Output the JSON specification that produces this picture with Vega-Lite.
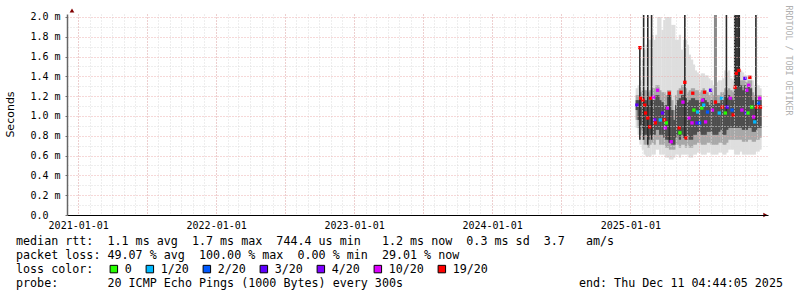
{
  "$schema": "https://vega.github.io/schema/vega-lite/v6.json",
  "width": 701,
  "height": 201,
  "autosize": "none",
  "padding": {"left": 67, "top": 14, "right": 29, "bottom": 82},
  "background": "white",
  "config": {"view": {"stroke": null}, "font": "DejaVu Sans Mono"},
  "title": {
    "text": [
      "median rtt:\u00a0\u00a01.1 ms avg\u00a0\u00a01.7 ms max\u00a0\u00a0744.4 us min\u00a0\u00a0\u00a01.2 ms now\u00a0\u00a00.3 ms sd\u00a0\u00a03.7\u00a0\u00a0\u00a0am/s",
      "packet loss: 49.07 % avg\u00a0\u00a0100.00 % max\u00a0\u00a00.00 % min\u00a0\u00a029.01 % now",
      "loss color:",
      "probe:\u00a0\u00a0\u00a0\u00a0\u00a0\u00a0\u00a020 ICMP Echo Pings (1000 Bytes) every 300s\u00a0\u00a0\u00a0\u00a0\u00a0\u00a0\u00a0\u00a0\u00a0\u00a0\u00a0\u00a0\u00a0\u00a0\u00a0\u00a0\u00a0\u00a0\u00a0\u00a0\u00a0\u00a0\u00a0\u00a0\u00a0end: Thu Dec 11 04:44:05 2025"
    ],
    "orient": "bottom",
    "anchor": "start",
    "frame": "group",
    "dx": -51,
    "dy": -44,
    "offset": 4,
    "font": "DejaVu Sans Mono",
    "fontSize": 11.7,
    "fontWeight": "normal",
    "lineHeight": 14,
    "color": "#000000"
  },
  "datasets": {
    "smoke": [
      {"t":"2025-01-18","lo":0.88,"hi":1.28,"a":0.96,"b":1.21,"c":1.06,"d":1.16},
      {"t":"2025-01-23","lo":0.81,"hi":1.31,"a":0.88,"b":1.21,"c":0.96,"d":1.16},
      {"t":"2025-01-28","lo":0.71,"hi":1.36,"a":0.81,"b":1.24,"c":0.91,"d":1.18},
      {"t":"2025-02-03","lo":0.66,"hi":1.57,"a":0.76,"b":1.26,"c":0.86,"d":1.16},
      {"t":"2025-02-08","lo":0.61,"hi":1.67,"a":0.71,"b":1.26,"c":0.81,"d":1.16},
      {"t":"2025-02-13","lo":0.59,"hi":1.72,"a":0.71,"b":1.26,"c":0.81,"d":1.16},
      {"t":"2025-02-18","lo":0.59,"hi":1.77,"a":0.68,"b":1.24,"c":0.76,"d":1.11},
      {"t":"2025-02-23","lo":0.59,"hi":1.77,"a":0.71,"b":1.26,"c":0.81,"d":1.16},
      {"t":"2025-03-01","lo":0.61,"hi":1.82,"a":0.73,"b":1.28,"c":0.81,"d":1.16},
      {"t":"2025-03-06","lo":0.61,"hi":1.77,"a":0.71,"b":1.28,"c":0.81,"d":1.16},
      {"t":"2025-03-11","lo":0.66,"hi":1.82,"a":0.76,"b":1.31,"c":0.86,"d":1.21},
      {"t":"2025-03-16","lo":0.66,"hi":2.0,"a":0.76,"b":1.31,"c":0.86,"d":1.21},
      {"t":"2025-03-21","lo":0.61,"hi":2.0,"a":0.71,"b":1.26,"c":0.81,"d":1.16},
      {"t":"2025-03-27","lo":0.61,"hi":1.87,"a":0.71,"b":1.24,"c":0.81,"d":1.14},
      {"t":"2025-04-01","lo":0.61,"hi":1.97,"a":0.71,"b":1.24,"c":0.78,"d":1.11},
      {"t":"2025-04-06","lo":0.58,"hi":2.0,"a":0.68,"b":1.21,"c":0.76,"d":1.11},
      {"t":"2025-04-11","lo":0.58,"hi":2.0,"a":0.68,"b":1.26,"c":0.76,"d":1.21},
      {"t":"2025-04-16","lo":0.56,"hi":2.0,"a":0.66,"b":1.26,"c":0.73,"d":1.21},
      {"t":"2025-04-22","lo":0.56,"hi":1.92,"a":0.66,"b":1.16,"c":0.71,"d":1.06},
      {"t":"2025-04-27","lo":0.58,"hi":1.92,"a":0.66,"b":1.06,"c":0.71,"d":0.96},
      {"t":"2025-05-02","lo":0.61,"hi":1.77,"a":0.71,"b":1.21,"c":0.78,"d":1.11},
      {"t":"2025-05-07","lo":0.61,"hi":1.77,"a":0.71,"b":1.26,"c":0.81,"d":1.16},
      {"t":"2025-05-12","lo":0.58,"hi":1.82,"a":0.68,"b":1.28,"c":0.76,"d":1.18},
      {"t":"2025-05-18","lo":0.61,"hi":1.67,"a":0.71,"b":1.31,"c":0.81,"d":1.21},
      {"t":"2025-05-23","lo":0.61,"hi":1.77,"a":0.71,"b":1.31,"c":0.78,"d":1.21},
      {"t":"2025-05-28","lo":0.61,"hi":1.77,"a":0.68,"b":1.28,"c":0.76,"d":1.18},
      {"t":"2025-06-02","lo":0.61,"hi":1.72,"a":0.71,"b":1.24,"c":0.81,"d":1.14},
      {"t":"2025-06-07","lo":0.58,"hi":1.62,"a":0.68,"b":1.26,"c":0.76,"d":1.16},
      {"t":"2025-06-13","lo":0.58,"hi":1.57,"a":0.68,"b":1.28,"c":0.76,"d":1.18},
      {"t":"2025-06-18","lo":0.61,"hi":1.52,"a":0.71,"b":1.28,"c":0.81,"d":1.18},
      {"t":"2025-06-23","lo":0.61,"hi":1.46,"a":0.71,"b":1.26,"c":0.81,"d":1.16},
      {"t":"2025-06-28","lo":0.63,"hi":1.44,"a":0.73,"b":1.26,"c":0.84,"d":1.16},
      {"t":"2025-07-03","lo":0.63,"hi":1.41,"a":0.73,"b":1.24,"c":0.84,"d":1.14},
      {"t":"2025-07-09","lo":0.61,"hi":1.43,"a":0.71,"b":1.26,"c":0.81,"d":1.16},
      {"t":"2025-07-14","lo":0.61,"hi":1.43,"a":0.71,"b":1.28,"c":0.81,"d":1.18},
      {"t":"2025-07-19","lo":0.61,"hi":1.41,"a":0.71,"b":1.26,"c":0.81,"d":1.16},
      {"t":"2025-07-24","lo":0.63,"hi":1.41,"a":0.73,"b":1.24,"c":0.84,"d":1.14},
      {"t":"2025-07-29","lo":0.63,"hi":1.38,"a":0.73,"b":1.21,"c":0.84,"d":1.11},
      {"t":"2025-08-04","lo":0.61,"hi":1.36,"a":0.71,"b":1.24,"c":0.84,"d":1.16},
      {"t":"2025-08-09","lo":0.61,"hi":1.31,"a":0.71,"b":1.21,"c":0.81,"d":1.11},
      {"t":"2025-08-14","lo":0.61,"hi":1.31,"a":0.71,"b":1.21,"c":0.81,"d":1.16},
      {"t":"2025-08-19","lo":0.61,"hi":1.34,"a":0.71,"b":1.21,"c":0.81,"d":1.13},
      {"t":"2025-08-24","lo":0.63,"hi":1.36,"a":0.73,"b":1.21,"c":0.84,"d":1.13},
      {"t":"2025-08-30","lo":0.63,"hi":1.36,"a":0.73,"b":1.24,"c":0.86,"d":1.16},
      {"t":"2025-09-04","lo":0.61,"hi":1.38,"a":0.71,"b":1.24,"c":0.81,"d":1.16},
      {"t":"2025-09-09","lo":0.61,"hi":1.46,"a":0.71,"b":1.28,"c":0.81,"d":1.21},
      {"t":"2025-09-14","lo":0.63,"hi":1.44,"a":0.73,"b":1.26,"c":0.86,"d":1.18},
      {"t":"2025-09-19","lo":0.66,"hi":1.46,"a":0.76,"b":1.28,"c":0.88,"d":1.21},
      {"t":"2025-09-25","lo":0.66,"hi":1.38,"a":0.76,"b":1.26,"c":0.88,"d":1.19},
      {"t":"2025-09-30","lo":0.66,"hi":1.36,"a":0.76,"b":1.24,"c":0.88,"d":1.16},
      {"t":"2025-10-05","lo":0.61,"hi":1.46,"a":0.76,"b":1.31,"c":0.88,"d":1.29},
      {"t":"2025-10-10","lo":0.61,"hi":1.46,"a":0.76,"b":1.31,"c":0.88,"d":1.29},
      {"t":"2025-10-15","lo":0.61,"hi":1.46,"a":0.76,"b":1.31,"c":0.88,"d":1.29},
      {"t":"2025-10-21","lo":0.64,"hi":1.46,"a":0.76,"b":1.36,"c":0.88,"d":1.31},
      {"t":"2025-10-26","lo":0.61,"hi":1.44,"a":0.74,"b":1.36,"c":0.86,"d":1.26},
      {"t":"2025-10-31","lo":0.61,"hi":1.41,"a":0.74,"b":1.36,"c":0.86,"d":1.31},
      {"t":"2025-11-05","lo":0.61,"hi":1.41,"a":0.74,"b":1.34,"c":0.86,"d":1.28},
      {"t":"2025-11-10","lo":0.61,"hi":1.41,"a":0.76,"b":1.36,"c":0.88,"d":1.31},
      {"t":"2025-11-16","lo":0.61,"hi":1.41,"a":0.76,"b":1.36,"c":0.88,"d":1.28},
      {"t":"2025-11-21","lo":0.61,"hi":1.36,"a":0.74,"b":1.24,"c":0.84,"d":1.16},
      {"t":"2025-11-26","lo":0.61,"hi":1.31,"a":0.74,"b":1.21,"c":0.84,"d":1.11},
      {"t":"2025-12-01","lo":0.64,"hi":1.31,"a":0.76,"b":1.21,"c":0.86,"d":1.16},
      {"t":"2025-12-06","lo":0.64,"hi":1.31,"a":0.76,"b":1.21,"c":0.88,"d":1.16},
      {"t":"2025-12-11","lo":0.66,"hi":1.28,"a":0.78,"b":1.21,"c":0.88,"d":1.16}
    ],
    "bars": [
      {"t":"2025-01-26","top":1.69,"bot":0.76,"k":"b"},
      {"t":"2025-02-05","top":2.02,"bot":0.76,"k":"b"},
      {"t":"2025-02-16","top":2.02,"bot":0.71,"k":"b"},
      {"t":"2025-02-26","top":2.02,"bot":0.76,"k":"b"},
      {"t":"2025-04-14","top":1.23,"bot":0.73,"k":"b"},
      {"t":"2025-05-25","top":2.02,"bot":0.78,"k":"b"},
      {"t":"2025-08-14","top":2.02,"bot":1.16,"k":"g"},
      {"t":"2025-09-12","top":2.02,"bot":1.03,"k":"b"},
      {"t":"2025-10-04","top":2.02,"bot":1.29,"k":"b"},
      {"t":"2025-10-07","top":2.02,"bot":1.29,"k":"b"},
      {"t":"2025-10-10","top":2.02,"bot":1.29,"k":"b"},
      {"t":"2025-10-13","top":2.02,"bot":1.29,"k":"b"},
      {"t":"2025-10-16","top":2.02,"bot":1.29,"k":"b"},
      {"t":"2025-11-29","top":2.02,"bot":0.96,"k":"b"}
    ],
    "med": [
      {"t":"2025-01-18","v":1.11,"loss":"3/20"},
      {"t":"2025-01-26","v":1.69,"loss":"19/20"},
      {"t":"2025-01-28","v":1.18,"loss":"19/20"},
      {"t":"2025-02-03","v":1.16,"loss":"19/20"},
      {"t":"2025-02-08","v":1.11,"loss":"19/20"},
      {"t":"2025-02-10","v":1.03,"loss":"19/20"},
      {"t":"2025-02-16","v":0.98,"loss":"19/20"},
      {"t":"2025-02-21","v":0.89,"loss":"19/20"},
      {"t":"2025-02-23","v":1.18,"loss":"19/20"},
      {"t":"2025-03-03","v":1.19,"loss":"10/20"},
      {"t":"2025-03-06","v":0.96,"loss":"4/20"},
      {"t":"2025-03-08","v":0.93,"loss":"19/20"},
      {"t":"2025-03-14","v":1.26,"loss":"10/20"},
      {"t":"2025-03-21","v":0.96,"loss":"1/20"},
      {"t":"2025-03-27","v":1.03,"loss":"3/20"},
      {"t":"2025-04-01","v":0.96,"loss":"19/20"},
      {"t":"2025-04-03","v":0.88,"loss":"10/20"},
      {"t":"2025-04-06","v":0.93,"loss":"0"},
      {"t":"2025-04-09","v":1.08,"loss":"10/20"},
      {"t":"2025-04-14","v":1.23,"loss":"19/20"},
      {"t":"2025-04-19","v":0.74,"loss":"10/20"},
      {"t":"2025-05-10","v":0.88,"loss":"19/20"},
      {"t":"2025-05-12","v":0.83,"loss":"0"},
      {"t":"2025-05-15","v":1.24,"loss":"19/20"},
      {"t":"2025-05-20","v":1.14,"loss":"10/20"},
      {"t":"2025-05-25","v":1.34,"loss":"19/20"},
      {"t":"2025-05-28","v":0.78,"loss":"19/20"},
      {"t":"2025-06-05","v":0.98,"loss":"10/20"},
      {"t":"2025-06-13","v":0.93,"loss":"10/20"},
      {"t":"2025-06-15","v":1.23,"loss":"19/20"},
      {"t":"2025-06-18","v":1.06,"loss":"0"},
      {"t":"2025-06-26","v":0.93,"loss":"3/20"},
      {"t":"2025-06-28","v":1.04,"loss":"1/20"},
      {"t":"2025-07-03","v":0.93,"loss":"2/20"},
      {"t":"2025-07-09","v":1.08,"loss":"0"},
      {"t":"2025-07-11","v":1.16,"loss":"10/20"},
      {"t":"2025-07-14","v":1.11,"loss":"1/20"},
      {"t":"2025-07-16","v":1.24,"loss":"19/20"},
      {"t":"2025-07-19","v":0.94,"loss":"10/20"},
      {"t":"2025-07-24","v":1.04,"loss":"2/20"},
      {"t":"2025-08-01","v":1.26,"loss":"3/20"},
      {"t":"2025-08-06","v":1.06,"loss":"10/20"},
      {"t":"2025-08-14","v":1.14,"loss":"19/20"},
      {"t":"2025-08-24","v":1.03,"loss":"1/20"},
      {"t":"2025-08-30","v":1.18,"loss":"1/20"},
      {"t":"2025-09-01","v":1.09,"loss":"19/20"},
      {"t":"2025-09-09","v":1.03,"loss":"0"},
      {"t":"2025-09-14","v":1.09,"loss":"3/20"},
      {"t":"2025-09-22","v":1.18,"loss":"10/20"},
      {"t":"2025-09-27","v":1.06,"loss":"2/20"},
      {"t":"2025-09-30","v":1.01,"loss":"19/20"},
      {"t":"2025-10-05","v":1.29,"loss":"19/20"},
      {"t":"2025-10-08","v":1.43,"loss":"19/20"},
      {"t":"2025-10-15","v":1.46,"loss":"19/20"},
      {"t":"2025-10-23","v":1.06,"loss":"10/20"},
      {"t":"2025-10-31","v":1.38,"loss":"3/20"},
      {"t":"2025-11-03","v":1.03,"loss":"3/20"},
      {"t":"2025-11-05","v":1.26,"loss":"10/20"},
      {"t":"2025-11-08","v":1.03,"loss":"0"},
      {"t":"2025-11-10","v":1.31,"loss":"10/20"},
      {"t":"2025-11-13","v":1.39,"loss":"19/20"},
      {"t":"2025-11-18","v":1.09,"loss":"0"},
      {"t":"2025-11-23","v":0.99,"loss":"10/20"},
      {"t":"2025-11-26","v":0.94,"loss":"1/20"},
      {"t":"2025-12-01","v":1.09,"loss":"19/20"},
      {"t":"2025-12-06","v":1.13,"loss":"2/20"},
      {"t":"2025-12-09","v":1.18,"loss":"10/20"},
      {"t":"2025-12-11","v":1.09,"loss":"19/20"}
    ],
    "arrows": [
      {"t":"2020-12-15T14:00:00Z","v":2.065,"k":"up"},
      {"t":"2025-12-24T00:00:00Z","v":0,"k":"right"}
    ]
  },
  "layer": [
    {
      "data": {"name": "smoke"},
      "mark": {"type": "bar", "width": 2.4, "color": "#dedede"},
      "encoding": {
        "x": {"field": "t", "type": "temporal",
              "scale": {"type": "utc", "domain": [{"year":2020,"month":12,"date":15,"hours":14,"utc":true},{"year":2025,"month":12,"date":17,"hours":19,"utc":true}]},
              "axis": {"orient": "bottom", "tickCount": {"interval": "month", "step": 1}, "grid": true, "gridColor": "#dddddd", "gridDash": [1, 2], "gridWidth": 1, "labels": false, "ticks": false, "domain": false, "title": null, "zindex": 1}},
        "y": {"field": "lo", "type": "quantitative",
              "scale": {"domain": [0, 2.03], "nice": false, "zero": true},
              "axis": {"orient": "left", "values": [0.1,0.3,0.5,0.7,0.9,1.1,1.3,1.5,1.7,1.9], "grid": true, "gridColor": "#dddddd", "gridDash": [1, 2], "gridWidth": 1, "labels": false, "ticks": false, "domain": false, "title": null, "zindex": 1}},
        "y2": {"field": "hi"}
      }
    },
    {
      "data": {"name": "smoke"},
      "mark": {"type": "bar", "width": 2.4, "color": "#a8a8a8"},
      "encoding": {
        "x": {"field": "t", "type": "temporal",
              "scale": {"type": "utc", "domain": [{"year":2020,"month":12,"date":15,"hours":14,"utc":true},{"year":2025,"month":12,"date":17,"hours":19,"utc":true}]},
              "axis": {"orient": "bottom", "tickCount": {"interval": "month", "step": 6}, "grid": true, "gridColor": "#ebaaaa", "gridOpacity": 0.9, "gridDash": [1, 2], "gridWidth": 1, "labels": false, "ticks": false, "domain": false, "title": null, "zindex": 1}},
        "y": {"field": "a", "type": "quantitative",
              "scale": {"domain": [0, 2.03], "nice": false, "zero": true},
              "axis": {"orient": "left", "values": [0,0.2,0.4,0.6,0.8,1.0,1.2,1.4,1.6,1.8,2.0],
                       "grid": true, "gridColor": "#ebaaaa", "gridOpacity": 0.9, "gridDash": [1, 2], "gridWidth": 1,
                       "labelExpr": "datum.value == 0 ? '0.0' : format(datum.value, '.1f') + ' m'",
                       "labelAlign": "left", "labelBaseline": "middle", "labelPadding": 35, "labelFont": "DejaVu Sans Mono", "labelFontSize": 10, "labelColor": "#000000",
                       "ticks": true, "tickSize": 2, "tickColor": "#777777",
                       "domain": true, "domainColor": "#666666", "domainWidth": 1.5,
                       "title": "Seconds", "titleFont": "DejaVu Sans", "titleFontSize": 11, "titleFontWeight": "normal", "titleColor": "#000000",
                       "titleAngle": -90, "titleX": -57, "titleY": 100, "titleAlign": "center", "titleBaseline": "middle", "zindex": 1}},
        "y2": {"field": "b"}
      }
    },
    {
      "data": {"name": "smoke"},
      "mark": {"type": "bar", "width": 2.4, "color": "#4e4e4e"},
      "encoding": {
        "x": {"field": "t", "type": "temporal",
              "scale": {"type": "utc", "domain": [{"year":2020,"month":12,"date":15,"hours":14,"utc":true},{"year":2025,"month":12,"date":17,"hours":19,"utc":true}]},
              "axis": {"orient": "bottom", "tickCount": {"interval": "year", "step": 1}, "grid": false,
                       "labelExpr": "utcFormat(datum.value, '%Y-%m-%d')", "labelFlush": false, "labelFont": "DejaVu Sans Mono", "labelFontSize": 10, "labelColor": "#000000", "labelPadding": 5,
                       "ticks": false, "tickSize": 0, "domain": true, "domainColor": "#000000", "domainWidth": 1, "title": null, "zindex": 1}},
        "y": {"field": "c", "type": "quantitative",
              "scale": {"domain": [0, 2.03], "nice": false, "zero": true},
              "axis": {"orient": "right", "labels": false, "ticks": false, "domain": false, "grid": false,
                       "title": "RRDTOOL / TOBI OETIKER", "titleFont": "DejaVu Sans Mono", "titleFontSize": 8.3, "titleFontWeight": "normal", "titleColor": "#b0b0b0",
                       "titleAngle": 90, "titleX": 19, "titleY": 46, "titleAlign": "center", "titleBaseline": "middle"}},
        "y2": {"field": "d"}
      }
    },
    {
      "data": {"name": "bars"},
      "transform": [{"filter": "datum.k == 'b'"}],
      "mark": {"type": "bar", "width": 1.6, "color": "#2a2a2a"},
      "encoding": {
        "x": {"field": "t", "type": "temporal", "axis": null},
        "y": {"field": "bot", "type": "quantitative", "axis": null},
        "y2": {"field": "top"}
      }
    },
    {
      "data": {"name": "bars"},
      "transform": [{"filter": "datum.k == 'g'"}],
      "mark": {"type": "bar", "width": 3, "color": "#8a8a8a"},
      "encoding": {
        "x": {"field": "t", "type": "temporal", "axis": null},
        "y": {"field": "bot", "type": "quantitative", "axis": null},
        "y2": {"field": "top"}
      }
    },
    {
      "data": {"name": "med"},
      "mark": {"type": "square", "size": 11, "filled": true, "opacity": 1},
      "encoding": {
        "x": {"field": "t", "type": "temporal", "axis": null},
        "y": {"field": "v", "type": "quantitative", "axis": null},
        "color": {"field": "loss", "type": "nominal",
                  "scale": {"domain": ["0","1/20","2/20","3/20","4/20","10/20","19/20"],
                            "range": ["#26ff00","#00b8ff","#0059ff","#5e00ff","#7e00ff","#dd00ff","#ff0000"]},
                  "legend": {"orient": "none", "legendX": 41, "legendY": 249, "direction": "horizontal", "title": null,
                             "symbolType": "square", "symbolSize": 56, "symbolStrokeColor": "#000000", "symbolStrokeWidth": 1, "symbolOpacity": 1,
                             "labelFont": "DejaVu Sans Mono", "labelFontSize": 11.7, "labelColor": "#000000", "labelOffset": 5,
                             "columnPadding": 12, "padding": 0}}
      }
    },
    {
      "data": {"name": "arrows"},
      "transform": [{"filter": "datum.k == 'up'"}],
      "mark": {"type": "point", "shape": "triangle-up", "filled": true, "color": "#800000", "size": 22, "opacity": 1},
      "encoding": {
        "x": {"field": "t", "type": "temporal", "axis": null},
        "y": {"field": "v", "type": "quantitative", "axis": null}
      }
    },
    {
      "data": {"name": "arrows"},
      "transform": [{"filter": "datum.k == 'right'"}],
      "mark": {"type": "point", "shape": "triangle-right", "filled": true, "color": "#800000", "size": 22, "opacity": 1},
      "encoding": {
        "x": {"field": "t", "type": "temporal", "axis": null},
        "y": {"field": "v", "type": "quantitative", "axis": null}
      }
    }
  ],
  "resolve": {"axis": {"x": "independent", "y": "independent"}}
}
